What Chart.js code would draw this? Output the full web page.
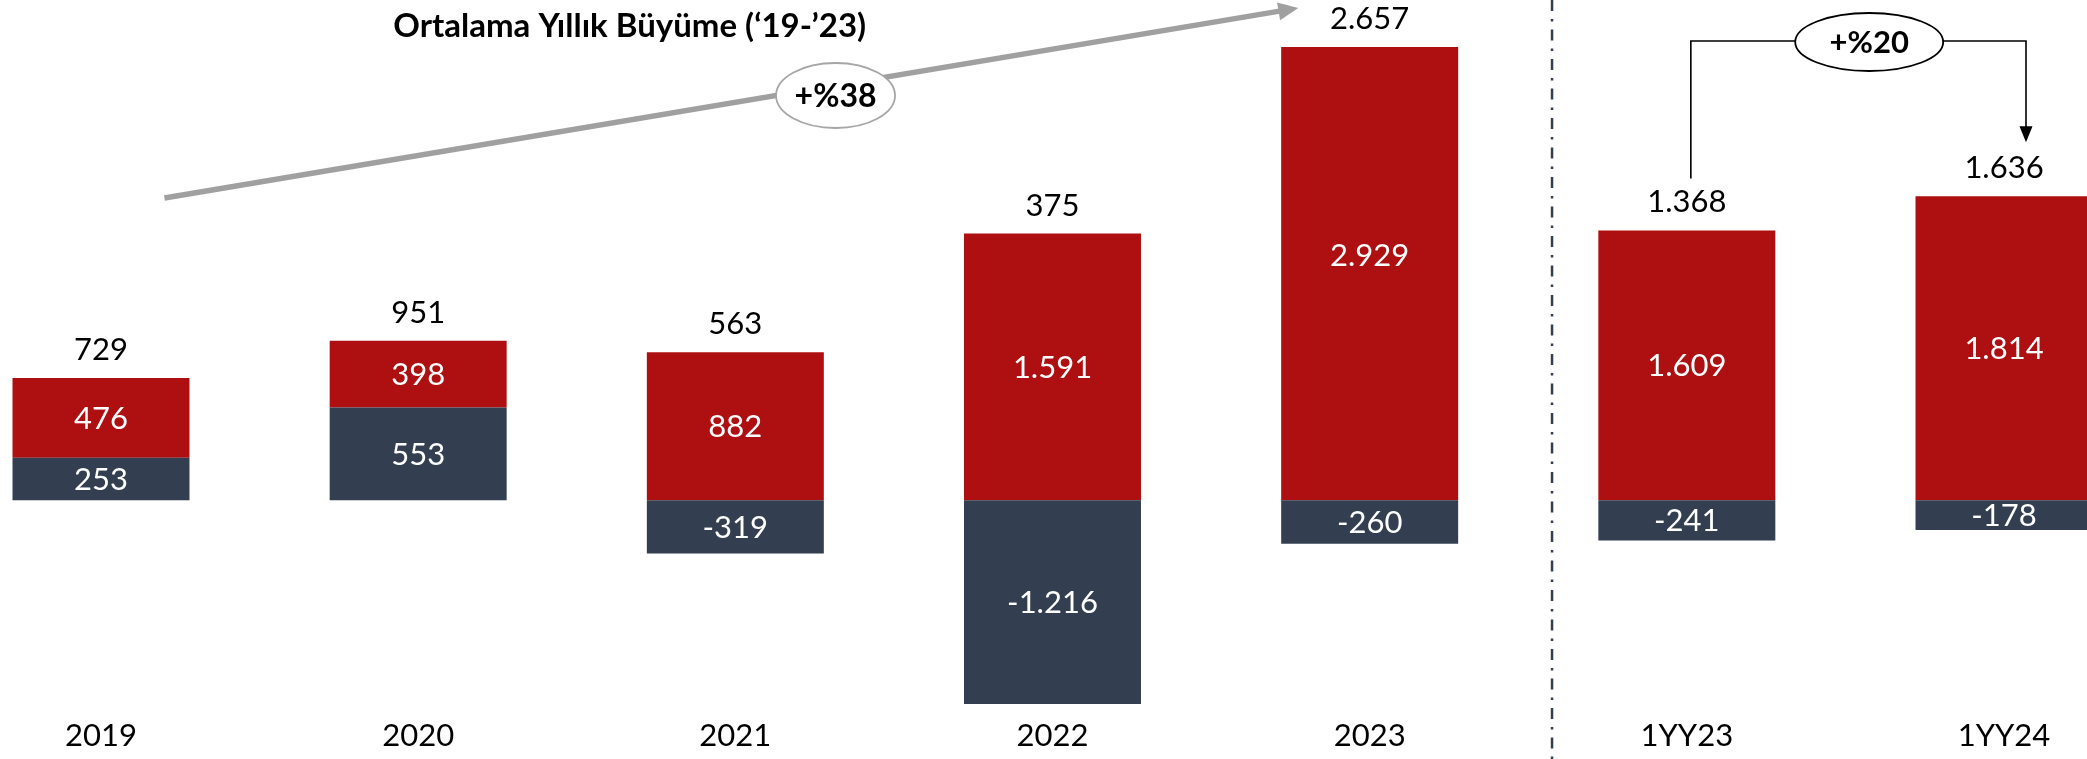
<!DOCTYPE html>
<html lang="tr">
<head>
<meta charset="utf-8">
<title>Ortalama Yıllık Büyüme</title>
<script src="https://cdn.jsdelivr.net/npm/chart.js@4.4.1/dist/chart.umd.min.js"></script>
<style>
    html, body { margin: 0; padding: 0; background: #fff; }
    canvas { display: block; }
</style>
</head>
<body>
<canvas id="growthChart" width="2087" height="759"></canvas>
<script>
const categories = ['2019', '2020', '2021', '2022', '2023', '1YY23', '1YY24'];
const navyValues = [253, 553, -319, -1216, -260, -241, -178];
const redValues = [476, 398, 882, 1591, 2929, 1609, 1814];
const netTotals = [729, 951, 563, 375, 2657, 1368, 1636];
const titleText = 'Ortalama Yıllık Büyüme (‘19-’23)';
const cagrLabel = '+%38';
const halfYearLabel = '+%20';

const RED = '#AE0F10';
const NAVY = '#333F50';
const FONT = 'Lato, "Open Sans", sans-serif';

// 1234 -> "1.234" (Turkish thousands separator)
function fmt(v) {
    const s = String(Math.abs(v)).replace(/\B(?=(\d{3})+(?!\d))/g, '.');
    return (v < 0 ? '-' : '') + s;
}

function ellipseLabel(ctx, cx, cy, rx, ry, stroke, text, size) {
    ctx.beginPath();
    ctx.ellipse(cx, cy, rx, ry, 0, 0, Math.PI * 2);
    ctx.fillStyle = '#fff';
    ctx.fill();
    ctx.lineWidth = 1.8;
    ctx.strokeStyle = stroke;
    ctx.stroke();
    ctx.fillStyle = '#000';
    ctx.font = 'bold ' + size + 'px ' + FONT;
    ctx.fillText(text, cx, cy + 1);
}

const annotations = {
    id: 'annotations',
    afterDatasetsDraw(chart) {
        const ctx = chart.ctx;
        const x = chart.scales.x;
        const y = chart.scales.y;
        const area = chart.chartArea;
        const step = x.getPixelForValue(1) - x.getPixelForValue(0);

        ctx.save();
        ctx.textAlign = 'center';
        ctx.textBaseline = 'middle';

        // values inside the segments
        ctx.font = '31px ' + FONT;
        ctx.fillStyle = '#fff';
        chart.data.datasets.forEach((ds, di) => {
            chart.getDatasetMeta(di).data.forEach((bar, i) => {
                const c = bar.getCenterPoint();
                ctx.fillText(fmt(ds.data[i]), c.x, c.y + 1);
            });
        });

        // net totals above the bars
        const labelY = [];
        ctx.fillStyle = '#000';
        netTotals.forEach((v, i) => {
            let pos = 0;
            chart.data.datasets.forEach(ds => { if (ds.data[i] > 0) pos += ds.data[i]; });
            const top = Math.max(y.getPixelForValue(pos), area.top);
            labelY[i] = top - 28;
            ctx.fillText(fmt(v), x.getPixelForValue(i), labelY[i]);
        });

        // dash-dot divider between yearly and half-year figures
        const divX = x.getPixelForValue(4) + 0.575 * step;
        ctx.strokeStyle = NAVY;
        ctx.lineWidth = 2.5;
        ctx.setLineDash([11, 8, 2.5, 8]);
        ctx.beginPath();
        ctx.moveTo(divX, 0);
        ctx.lineTo(divX, chart.height);
        ctx.stroke();
        ctx.setLineDash([]);

        // growth arrow 2019 -> 2023
        const ax0 = x.getPixelForValue(0) + 0.2 * step, ay0 = area.top + 151;
        const ax1 = x.getPixelForValue(4) - 0.225 * step, ay1 = area.top - 39;
        const ang = Math.atan2(ay1 - ay0, ax1 - ax0);
        const head = 20;
        ctx.strokeStyle = '#A0A0A0';
        ctx.fillStyle = '#A0A0A0';
        ctx.lineWidth = 5.5;
        ctx.beginPath();
        ctx.moveTo(ax0, ay0);
        ctx.lineTo(ax1 - head * 0.8 * Math.cos(ang), ay1 - head * 0.8 * Math.sin(ang));
        ctx.stroke();
        ctx.beginPath();
        ctx.moveTo(ax1, ay1);
        ctx.lineTo(ax1 - head * Math.cos(ang) + 9 * Math.sin(ang), ay1 - head * Math.sin(ang) - 9 * Math.cos(ang));
        ctx.lineTo(ax1 - head * Math.cos(ang) - 9 * Math.sin(ang), ay1 - head * Math.sin(ang) + 9 * Math.cos(ang));
        ctx.closePath();
        ctx.fill();

        ellipseLabel(ctx, x.getPixelForValue(2) + 0.316 * step, area.top + 48.5, 59.5, 32.5, '#A6A6A6', cagrLabel, 32);

        // title
        ctx.fillStyle = '#000';
        ctx.font = 'bold 33px ' + FONT;
        ctx.fillText(titleText, x.getPixelForValue(2) - 0.333 * step, 26);

        // bracket 1YY23 -> 1YY24
        const bx0 = x.getPixelForValue(5) + 4;
        const bx1 = x.getPixelForValue(6) + 22;
        const by = area.top - 6;
        const tipY = labelY[6] - 26;
        ctx.strokeStyle = '#000';
        ctx.fillStyle = '#000';
        ctx.lineWidth = 1.6;
        ctx.beginPath();
        ctx.moveTo(bx0, labelY[5] - 24);
        ctx.lineTo(bx0, by);
        ctx.lineTo(bx1, by);
        ctx.lineTo(bx1, tipY - 14);
        ctx.stroke();
        ctx.beginPath();
        ctx.moveTo(bx1, tipY);
        ctx.lineTo(bx1 - 6.5, tipY - 16);
        ctx.lineTo(bx1 + 6.5, tipY - 16);
        ctx.closePath();
        ctx.fill();

        ellipseLabel(ctx, x.getPixelForValue(5) + 0.575 * step, by + 1, 74, 29, '#000', halfYearLabel, 31);

        ctx.restore();
    }
};

const barClip = { left: false, top: 0, right: false, bottom: false };

new Chart(document.getElementById('growthChart'), {
    type: 'bar',
    data: {
        labels: categories,
        datasets: [
            { data: navyValues, backgroundColor: NAVY, clip: barClip },
            { data: redValues, backgroundColor: RED, clip: barClip }
        ]
    },
    options: {
        responsive: false,
        animation: false,
        layout: { padding: { top: 47, left: 101, right: 83, bottom: 0 } },
        datasets: { bar: { barPercentage: 0.558, categoryPercentage: 1 } },
        scales: {
            x: {
                stacked: true,
                offset: false,
                grid: { display: false, drawTicks: false },
                border: { display: false },
                ticks: { color: '#000', font: { family: FONT, size: 31 }, padding: 4 }
            },
            y: { stacked: true, display: false, min: -1275, max: 2704 }
        },
        plugins: { legend: { display: false }, tooltip: { enabled: false } }
    },
    plugins: [annotations]
});
</script>
</body>
</html>
